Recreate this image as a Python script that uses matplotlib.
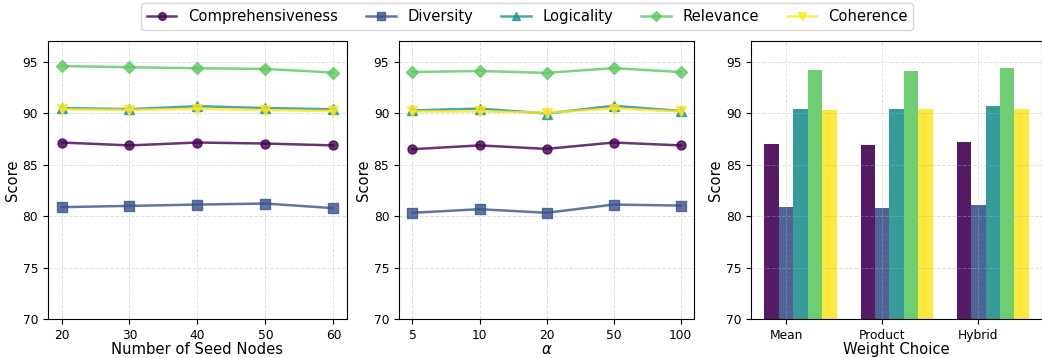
import numpy as np
import matplotlib
matplotlib.use("Agg")
from matplotlib import pyplot as plt

metrics = ["Comprehensiveness", "Diversity", "Logicality", "Relevance", "Coherence"]
markers = ["o", "s", "^", "D", "v"]

seed_nodes = [20, 30, 40, 50, 60]
seed_scores = {
    "Comprehensiveness": [87.15, 86.87, 87.15, 87.05, 86.87],
    "Diversity": [80.87, 80.99, 81.12, 81.22, 80.77],
    "Logicality": [90.5, 90.4, 90.68, 90.5, 90.38],
    "Relevance": [94.58, 94.47, 94.37, 94.3, 93.95],
    "Coherence": [90.38, 90.32, 90.42, 90.3, 90.2],
}

alpha_labels = ["5", "10", "20", "50", "100"]
alpha_scores = {
    "Comprehensiveness": [86.5, 86.87, 86.53, 87.15, 86.87],
    "Diversity": [80.32, 80.67, 80.32, 81.12, 81.02],
    "Logicality": [90.27, 90.45, 89.97, 90.72, 90.22],
    "Relevance": [94.0, 94.1, 93.92, 94.38, 94.0],
    "Coherence": [90.17, 90.17, 90.05, 90.45, 90.17],
}

weight_labels = ["Mean", "Product", "Hybrid"]
weight_scores = {
    "Comprehensiveness": [86.99, 86.89, 87.18],
    "Diversity": [80.93, 80.83, 81.12],
    "Logicality": [90.41, 90.41, 90.7],
    "Relevance": [94.2, 94.1, 94.4],
    "Coherence": [90.31, 90.41, 90.41],
}

colors = plt.cm.viridis(np.linspace(0, 1, len(metrics)))

fig = plt.figure(figsize=(10.42, 3.58), dpi=100)
ax1 = fig.add_axes([0.046, 0.109, 0.287, 0.776])
ax2 = fig.add_axes([0.383, 0.109, 0.283, 0.776])
ax3 = fig.add_axes([0.721, 0.109, 0.279, 0.776])

lw, ms = 1.8, 6.5
for m, c, mk in zip(metrics, colors, markers):
    ax1.plot(seed_nodes, seed_scores[m], marker=mk, color=c, label=m,
             linewidth=lw, markersize=ms, alpha=0.8)
ax1.set_xticks(seed_nodes)
ax1.set_xlabel("Number of Seed Nodes", fontsize=10.6)

xa = np.arange(len(alpha_labels))
for m, c, mk in zip(metrics, colors, markers):
    ax2.plot(xa, alpha_scores[m], marker=mk, color=c, label=m,
             linewidth=lw, markersize=ms, alpha=0.8)
ax2.set_xticks(xa)
ax2.set_xticklabels(alpha_labels)
ax2.set_xlabel(r"$\alpha$", fontsize=10.6)

xw = np.arange(len(weight_labels))
w = 0.15
for i, (m, c) in enumerate(zip(metrics, colors)):
    ax3.bar(xw + (i - 1) * w, weight_scores[m], width=w, color=c, alpha=0.9, label=m)
ax3.set_xticks(xw)
ax3.set_xticklabels(weight_labels)
ax3.set_xlabel("Weight Choice", fontsize=10.6)

for ax in (ax1, ax2, ax3):
    ax.set_ylim(70, 97)
    ax.set_yticks([70, 75, 80, 85, 90, 95])
    ax.set_ylabel("Score", fontsize=10.6, labelpad=2)
    ax.tick_params(labelsize=8.8, length=3.5)
    ax.xaxis.labelpad = 0.5
    ax.grid(True, linestyle="--", alpha=0.4, linewidth=0.7)

handles, labels = ax1.get_legend_handles_labels()
fig.legend(handles, labels, loc="upper center", ncol=5, fontsize=10.6,
           bbox_to_anchor=(0.506, 1.012), frameon=True, markerscale=0.85,
           columnspacing=1.9)

fig.savefig("out.png", dpi=100)
